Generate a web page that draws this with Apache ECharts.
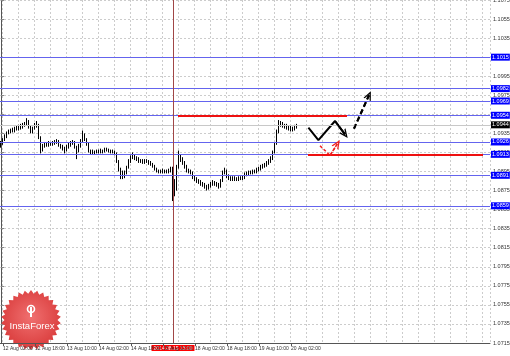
<!DOCTYPE html>
<html><head><meta charset="utf-8">
<script src="https://cdn.jsdelivr.net/npm/echarts@6/dist/echarts.min.js"></script>
<style>html,body{margin:0;padding:0;background:#fff}#c{width:510px;height:356px}</style>
</head><body><div id="c"></div>
<script>
// [open, close, low, high] hourly candles, 12 Aug 01:00 .. 20 Aug 05:00
const ohlc = [
[1.0922,1.0925,1.0920,1.0927],[1.0925,1.0928,1.0923,1.0930],[1.0928,1.0932,1.0927,1.0934],[1.0932,1.0936,1.0930,1.0937],
[1.0936,1.0937,1.0934,1.0939],[1.0937,1.0938,1.0935,1.0940],[1.0938,1.0938,1.0936,1.0941],[1.0938,1.0940,1.0936,1.0942],
[1.0940,1.0940,1.0938,1.0943],[1.0940,1.0942,1.0938,1.0944],[1.0942,1.0942,1.0939,1.0945],[1.0942,1.0944,1.0940,1.0946],
[1.0944,1.0945,1.0942,1.0947],[1.0945,1.0947,1.0943,1.0951],[1.0947,1.0942,1.0940,1.0949],[1.0942,1.0937,1.0935,1.0943],
[1.0937,1.0940,1.0935,1.0942],[1.0940,1.0944,1.0939,1.0946],[1.0944,1.0944,1.0941,1.0948],[1.0944,1.0931,1.0929,1.0945],
[1.0931,1.0918,1.0914,1.0932],[1.0918,1.0922,1.0916,1.0924],[1.0922,1.0924,1.0920,1.0926],[1.0924,1.0923,1.0921,1.0926],
[1.0923,1.0925,1.0921,1.0927],[1.0925,1.0924,1.0922,1.0926],[1.0924,1.0925,1.0922,1.0927],[1.0925,1.0926,1.0923,1.0928],
[1.0926,1.0927,1.0924,1.0929],[1.0927,1.0923,1.0921,1.0928],[1.0923,1.0921,1.0919,1.0924],[1.0921,1.0920,1.0917,1.0923],
[1.0920,1.0917,1.0914,1.0921],[1.0917,1.0921,1.0916,1.0923],[1.0921,1.0923,1.0919,1.0925],[1.0923,1.0925,1.0921,1.0927],
[1.0925,1.0926,1.0923,1.0928],[1.0926,1.0921,1.0919,1.0927],[1.0921,1.0917,1.0908,1.0922],[1.0917,1.0922,1.0915,1.0924],
[1.0922,1.0927,1.0920,1.0929],[1.0927,1.0934,1.0926,1.0938],[1.0934,1.0929,1.0927,1.0935],[1.0929,1.0924,1.0922,1.0930],
[1.0924,1.0917,1.0915,1.0925],[1.0917,1.0915,1.0913,1.0918],[1.0915,1.0916,1.0913,1.0918],[1.0916,1.0915,1.0913,1.0917],
[1.0915,1.0916,1.0914,1.0918],[1.0916,1.0916,1.0914,1.0918],[1.0916,1.0917,1.0914,1.0919],[1.0917,1.0916,1.0914,1.0918],
[1.0916,1.0918,1.0915,1.0920],[1.0918,1.0918,1.0916,1.0920],[1.0918,1.0917,1.0915,1.0919],[1.0917,1.0916,1.0914,1.0918],
[1.0916,1.0916,1.0914,1.0918],[1.0916,1.0914,1.0912,1.0917],[1.0914,1.0906,1.0904,1.0915],[1.0906,1.0898,1.0895,1.0907],
[1.0898,1.0894,1.0887,1.0899],[1.0894,1.0890,1.0887,1.0896],[1.0890,1.0894,1.0888,1.0896],[1.0894,1.0899,1.0892,1.0901],
[1.0899,1.0906,1.0898,1.0908],[1.0906,1.0910,1.0904,1.0912],[1.0910,1.0911,1.0908,1.0915],[1.0911,1.0909,1.0907,1.0913],
[1.0909,1.0908,1.0906,1.0911],[1.0908,1.0906,1.0904,1.0910],[1.0906,1.0906,1.0904,1.0908],[1.0906,1.0905,1.0903,1.0908],
[1.0905,1.0906,1.0903,1.0908],[1.0906,1.0906,1.0904,1.0908],[1.0906,1.0904,1.0902,1.0907],[1.0904,1.0903,1.0901,1.0906],
[1.0903,1.0901,1.0899,1.0904],[1.0901,1.0898,1.0896,1.0902],[1.0898,1.0896,1.0894,1.0899],[1.0896,1.0895,1.0893,1.0897],
[1.0895,1.0895,1.0893,1.0897],[1.0895,1.0896,1.0893,1.0898],[1.0896,1.0895,1.0893,1.0897],[1.0895,1.0895,1.0893,1.0897],
[1.0895,1.0896,1.0893,1.0898],[1.0896,1.0898,1.0894,1.0900],[1.0898,1.0885,1.0864,1.0900],[1.0885,1.0877,1.0869,1.0887],
[1.0877,1.0900,1.0875,1.0902],[1.0900,1.0911,1.0898,1.0917],[1.0911,1.0908,1.0905,1.0913],[1.0908,1.0904,1.0902,1.0910],
[1.0904,1.0900,1.0898,1.0906],[1.0900,1.0896,1.0894,1.0902],[1.0896,1.0895,1.0893,1.0898],[1.0895,1.0894,1.0892,1.0897],
[1.0894,1.0889,1.0887,1.0895],[1.0889,1.0887,1.0885,1.0891],[1.0887,1.0885,1.0883,1.0889],[1.0885,1.0884,1.0882,1.0887],
[1.0884,1.0882,1.0880,1.0886],[1.0882,1.0881,1.0879,1.0884],[1.0881,1.0879,1.0877,1.0883],[1.0879,1.0877,1.0875,1.0881],
[1.0877,1.0880,1.0876,1.0882],[1.0880,1.0882,1.0878,1.0884],[1.0882,1.0883,1.0880,1.0886],[1.0883,1.0882,1.0880,1.0885],
[1.0882,1.0881,1.0879,1.0884],[1.0881,1.0879,1.0877,1.0883],[1.0879,1.0885,1.0878,1.0887],[1.0885,1.0894,1.0884,1.0896],
[1.0894,1.0896,1.0892,1.0899],[1.0896,1.0890,1.0888,1.0897],[1.0890,1.0888,1.0886,1.0892],[1.0888,1.0887,1.0885,1.0890],
[1.0887,1.0888,1.0885,1.0890],[1.0888,1.0887,1.0885,1.0890],[1.0887,1.0887,1.0885,1.0889],[1.0887,1.0888,1.0885,1.0890],
[1.0888,1.0888,1.0886,1.0890],[1.0888,1.0889,1.0886,1.0891],[1.0889,1.0892,1.0887,1.0894],[1.0892,1.0893,1.0890,1.0895],
[1.0893,1.0894,1.0891,1.0896],[1.0894,1.0894,1.0892,1.0896],[1.0894,1.0895,1.0892,1.0897],[1.0895,1.0895,1.0893,1.0897],
[1.0895,1.0897,1.0893,1.0899],[1.0897,1.0898,1.0895,1.0900],[1.0898,1.0900,1.0896,1.0902],[1.0900,1.0901,1.0898,1.0903],
[1.0901,1.0902,1.0899,1.0904],[1.0902,1.0904,1.0900,1.0906],[1.0904,1.0906,1.0902,1.0908],[1.0906,1.0909,1.0904,1.0911],
[1.0909,1.0915,1.0907,1.0917],[1.0915,1.0924,1.0914,1.0926],[1.0924,1.0937,1.0923,1.0939],[1.0937,1.0946,1.0935,1.0949],
[1.0946,1.0945,1.0942,1.0948],[1.0945,1.0943,1.0941,1.0947],[1.0943,1.0943,1.0940,1.0945],[1.0943,1.0941,1.0939,1.0945],
[1.0941,1.0941,1.0938,1.0943],[1.0941,1.0939,1.0937,1.0943],[1.0939,1.0940,1.0937,1.0942],[1.0940,1.0942,1.0938,1.0944],
[1.0942,1.0944,1.0940,1.0945]
];
// trading days: [day of August, first hour, last hour]
const tradingDays = [[12,1,23],[13,0,23],[14,0,23],[15,0,23],[18,0,23],[19,0,23],[20,0,5]];
const totalSlots = 245;
const yTicks = [1.0715,1.0735,1.0755,1.0775,1.0795,1.0815,1.0835,1.0855,1.0875,1.0895,1.0915,1.0935,1.0955,1.0975,1.0995,1.1015,1.1035,1.1055,1.1075];
const blueLevels = [1.1015, 1.0982, 1.0969, 1.0954, 1.0926, 1.0913, 1.0891, 1.0859];
const currentPrice = 1.0944;
const redLevels = [[88.5, 173, 1.0954], [153.5, 241, 1.0913]]; // [fromSlot, toSlot, price]
const blackPath = [[153.7,1.0941],[158.7,1.0928],[167,1.0948],[172,1.0934]];
const blackDashed = [[176.5,1.0940],[184,1.0975]];
const redDashed = [[159.5,1.0922],[164.5,1.0912],[168.2,1.0924]];
const crosshairTime = '15 Aug 15:00';
const crosshairLabel = '2014.08.15 15:00';

const categories = [];
for (const [d, h0, h1] of tradingDays) for (let h = h0; h <= h1; h++) categories.push(d + ' Aug ' + String(h).padStart(2, '0') + ':00');
const nData = categories.length;
while (categories.length < totalSlots) categories.push('');

// pick a narrow small font if available
const mctx = document.createElement('canvas').getContext('2d');
mctx.font = "6px 'Liberation Sans Narrow'";
const narrowW = mctx.measureText('12 Aug 02:00').width;
const hasNarrow = narrowW < 31;
const FONT = hasNarrow ? "'Liberation Sans Narrow'" : "'Liberation Sans'";
const FS = hasNarrow ? 6 : 5;
const FSY = hasNarrow ? 6 : 5.5;

const labelEvery = (i) => i % 16 === 1 && i < nData;
const gridEvery = (i) => i % 8 === 1;
const chevron = 'path://M0,20 L10,0 L20,20 L16.5,20 L10,7 L3.5,20 Z';
const xFirst = -0.5, xLast = totalSlots - 0.5;

function arrowHead(path) {
  const a = path[path.length - 2], b = path[path.length - 1];
  return [[{coord: a, symbol: 'none'}, {coord: b, symbol: chevron, symbolSize: [8, 9]}]];
}
function levelLine(v, lineColor, boxColor) {
  return [{coord: [xFirst, v], lineStyle: {color: lineColor, width: 1, type: 'solid'},
           label: {show: true, position: 'end', distance: 1, formatter: v.toFixed(4), backgroundColor: boxColor,
                   color: '#fff', fontSize: FSY, fontFamily: FONT, padding: [1, 1, 0, 1]}},
          {coord: [xLast, v]}];
}

const chart = echarts.init(document.getElementById('c'), null, {renderer: 'canvas'});

// logo star
const cx = 31, cy = 320, R = 30, r = 26.5, n = 30;
const starPts = [];
for (let k = 0; k < 2 * n; k++) {
  const ang = k * Math.PI / n - Math.PI / 2;
  const rad = k % 2 === 0 ? R : r;
  starPts.push([cx + rad * Math.cos(ang), cy + rad * Math.sin(ang)]);
}

chart.setOption({
  animation: false,
  backgroundColor: '#ffffff',
  grid: {left: 0, top: 0, width: 490, height: 343, containLabel: false, outerBoundsMode: 'none'},
  xAxis: [
    {type: 'category', data: categories, boundaryGap: true, position: 'bottom', z: 0,
     axisLine: {show: false}, axisTick: {show: false}, axisLabel: {show: false},
     splitLine: {show: true, interval: gridEvery, lineStyle: {color: '#cccccc', width: 1, type: [2, 2]}}},
    {type: 'value', min: xFirst, max: xLast, show: false, position: 'bottom'},
    {type: 'category', data: categories, boundaryGap: true, position: 'bottom', z: 10,
     axisLine: {show: true, lineStyle: {color: '#555', width: 1}},
     axisTick: {show: true, interval: labelEvery, alignWithLabel: true, length: 3, lineStyle: {color: '#555'}},
     axisLabel: {show: true, interval: labelEvery, showMinLabel: true, showMaxLabel: true, align: 'left', margin: 3,
                 fontSize: FS, color: '#333', fontFamily: FONT, hideOverlap: false},
     splitLine: {show: false}}
  ],
  yAxis: {
    type: 'value', position: 'right', min: 1.0715, max: 1.1075, interval: 0.002, z: 0,
    axisLine: {show: true, lineStyle: {color: '#555', width: 1}},
    axisTick: {show: true, length: 3, customValues: yTicks, lineStyle: {color: '#888'}},
    axisLabel: {show: true, customValues: yTicks, margin: 3, fontSize: FSY, color: '#333', fontFamily: FONT, formatter: v => v.toFixed(4)},
    splitLine: {show: true, lineStyle: {color: '#cccccc', width: 1, type: [2, 2]}}
  },
  graphic: [
    {type: 'polygon', z: 1, shape: {points: starPts},
     style: {fill: new echarts.graphic.RadialGradient(0.5, 0.45, 0.6, [{offset: 0, color: '#f07070'}, {offset: 1, color: '#d83838'}])}},
    {type: 'circle', z: 1, shape: {cx: cx, cy: 309, r: 3.5}, style: {fill: 'none', stroke: '#fff', lineWidth: 1.6}},
    {type: 'rect', z: 1, shape: {x: cx - 1, y: 307, width: 2, height: 10}, style: {fill: '#fff'}},
    {type: 'text', z: 1, style: {x: cx + 1, y: 326, text: 'InstaForex', fill: '#fff', font: "9.5px 'Liberation Sans', sans-serif", textAlign: 'center', textVerticalAlign: 'middle'}}
  ],
  series: [
    {type: 'candlestick', name: 'EURUSD', xAxisIndex: 0, yAxisIndex: 0, data: ohlc, barWidth: 1, z: 2,
     itemStyle: {color: '#000', color0: '#000', borderColor: '#000', borderColor0: '#000', borderWidth: 1}},
    {type: 'line', name: 'levels', xAxisIndex: 1, yAxisIndex: 0, data: [], z: 2,
     markLine: {silent: true, symbol: ['none', 'none'], animation: false,
       data: [levelLine(currentPrice, '#c8c8c8', '#000')].concat(blueLevels.map(v => levelLine(v, '#6464ee', '#0000ff')))}},
    {type: 'line', name: 'red levels', xAxisIndex: 1, yAxisIndex: 0, data: [], z: 3,
     markLine: {silent: true, symbol: ['none', 'none'], animation: false, label: {show: false},
       lineStyle: {color: '#ee1111', width: 2, type: 'solid'},
       data: redLevels.map(([a, b, v]) => [{coord: [a, v]}, {coord: [b, v]}])}},
    {type: 'line', name: 'scenario', xAxisIndex: 1, yAxisIndex: 0, data: blackPath, symbol: 'none', z: 4,
     lineStyle: {color: '#000', width: 2},
     markLine: {silent: true, animation: false, label: {show: false}, lineStyle: {color: '#000', width: 2, type: 'solid'}, data: arrowHead(blackPath)}},
    {type: 'line', name: 'breakout', xAxisIndex: 1, yAxisIndex: 0, data: blackDashed, symbol: 'none', z: 4,
     lineStyle: {color: '#000', width: 2, type: [5, 3]},
     markLine: {silent: true, animation: false, label: {show: false}, lineStyle: {color: '#000', width: 2, type: [5, 3]}, data: arrowHead(blackDashed)}},
    {type: 'line', name: 'rebound', xAxisIndex: 1, yAxisIndex: 0, data: redDashed, symbol: 'none', z: 4,
     lineStyle: {color: '#ee2222', width: 1.5, type: [3, 2]},
     markLine: {silent: true, animation: false, label: {show: false}, lineStyle: {color: '#ee2222', width: 1.5, type: [3, 2]}, data: arrowHead(redDashed)}},
    {type: 'line', name: 'crosshair', xAxisIndex: 0, yAxisIndex: 0, data: [], z: 11,
     markLine: {silent: true, symbol: ['none', 'none'], animation: false,
       lineStyle: {color: '#a04646', width: 1, type: 'solid'},
       data: [{xAxis: crosshairTime,
         label: {show: true, position: 'start', distance: 2, formatter: crosshairLabel, backgroundColor: '#ff0000', color: '#fff', fontSize: FS, fontFamily: FONT, padding: [1, 2, 0, 2]}}]}}
  ]
});
</script></body></html>
